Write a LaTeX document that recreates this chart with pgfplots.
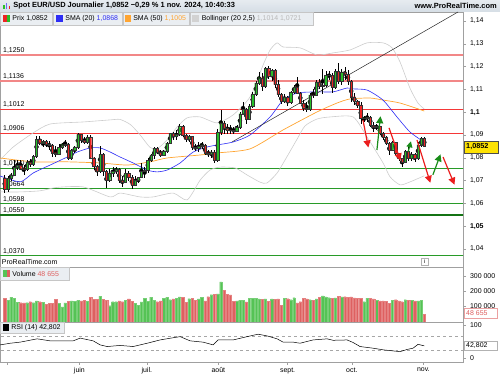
\documentclass[border=0pt]{standalone}
\usepackage{fontspec}
\setmainfont{Liberation Sans}
\usepackage{pgfplots}
\pgfplotsset{compat=1.18}
\usepackage{pgfplotstable}
\usetikzlibrary{arrows.meta}
\definecolor{cgreen}{RGB}{40,190,40}
\definecolor{cred}{RGB}{236,36,36}
\definecolor{vgreen}{RGB}{85,195,85}
\definecolor{vred}{RGB}{222,96,96}
\definecolor{bblue}{RGB}{45,45,245}
\definecolor{sorange}{RGB}{255,165,50}
\definecolor{boll}{RGB}{205,205,205}
\definecolor{lgreen}{RGB}{40,155,40}
\definecolor{dgreen}{RGB}{20,115,20}
\definecolor{hred}{RGB}{245,55,55}
\definecolor{pred}{RGB}{242,135,135}
\definecolor{barbg}{RGB}{214,222,230}
\definecolor{boxbg}{RGB}{234,238,242}
\definecolor{axgray}{RGB}{160,160,160}
\definecolor{agreen}{RGB}{25,140,25}
\definecolor{ared}{RGB}{235,30,30}
\newcommand\sm{\fontsize{7}{8}\selectfont}
\pgfplotstableread{
i o h l c v
0 1.0712 1.0725 1.0646 1.0660 153000
1 1.0660 1.0718 1.0650 1.0710 142000
2 1.0710 1.0735 1.0700 1.0725 161000
3 1.0725 1.0790 1.0720 1.0758 153000
4 1.0758 1.0790 1.0745 1.0768 128000
5 1.0768 1.0790 1.0745 1.0752 126000
6 1.0752 1.0770 1.0725 1.0748 125000
7 1.0748 1.0790 1.0740 1.0782 126000
8 1.0782 1.0795 1.0760 1.0771 132000
9 1.0771 1.0810 1.0765 1.0805 126000
10 1.0805 1.0895 1.0800 1.0882 138000
11 1.0882 1.0895 1.0855 1.0866 132000
12 1.0866 1.0880 1.0845 1.0871 128000
13 1.0871 1.0880 1.0845 1.0858 115000
14 1.0858 1.0875 1.0835 1.0855 122000
15 1.0855 1.0860 1.0805 1.0822 122000
16 1.0822 1.0850 1.0805 1.0817 147000
17 1.0817 1.0860 1.0810 1.0847 120000
18 1.0847 1.0865 1.0840 1.0857 98000
19 1.0857 1.0880 1.0845 1.0859 124000
20 1.0859 1.0865 1.0790 1.0800 135000
21 1.0800 1.0840 1.0790 1.0832 137000
22 1.0832 1.0850 1.0820 1.0848 135000
23 1.0848 1.0910 1.0840 1.0903 140000
24 1.0903 1.0905 1.0865 1.0877 137000
25 1.0877 1.0890 1.0860 1.0869 140000
26 1.0869 1.0900 1.0860 1.0892 135000
27 1.0892 1.0900 1.0795 1.0800 162000
28 1.0800 1.0805 1.0745 1.0763 147000
29 1.0763 1.0770 1.0720 1.0740 147000
30 1.0740 1.0850 1.0735 1.0815 168000
31 1.0815 1.0820 1.0720 1.0739 147000
32 1.0739 1.0745 1.0668 1.0702 142000
33 1.0702 1.0750 1.0695 1.0734 106000
34 1.0734 1.0761 1.0715 1.0739 132000
35 1.0739 1.0760 1.0730 1.0750 132000
36 1.0750 1.0755 1.0690 1.0700 137000
37 1.0700 1.0720 1.0670 1.0693 132000
38 1.0693 1.0750 1.0690 1.0733 140000
39 1.0733 1.0740 1.0700 1.0715 150000
40 1.0715 1.0725 1.0665 1.0681 136000
41 1.0681 1.0720 1.0675 1.0702 120000
42 1.0702 1.0715 1.0690 1.0713 110000
43 1.0713 1.0775 1.0710 1.0740 131000
44 1.0740 1.0760 1.0710 1.0745 155000
45 1.0745 1.0800 1.0735 1.0790 134000
46 1.0790 1.0815 1.0780 1.0812 162000
47 1.0812 1.0845 1.0795 1.0840 140000
48 1.0840 1.0845 1.0815 1.0826 132000
49 1.0826 1.0835 1.0805 1.0813 137000
50 1.0813 1.0835 1.0810 1.0829 153000
51 1.0829 1.0870 1.0820 1.0864 160000
52 1.0864 1.0910 1.0860 1.0907 145000
53 1.0907 1.0915 1.0880 1.0893 150000
54 1.0893 1.0920 1.0880 1.0902 156000
55 1.0902 1.0948 1.0895 1.0939 164000
56 1.0939 1.0945 1.0890 1.0899 160000
57 1.0899 1.0905 1.0870 1.0883 128000
58 1.0883 1.0900 1.0870 1.0893 152000
59 1.0893 1.0895 1.0835 1.0846 154000
60 1.0846 1.0860 1.0830 1.0843 140000
61 1.0843 1.0870 1.0825 1.0849 151000
62 1.0849 1.0870 1.0840 1.0856 160000
63 1.0856 1.0860 1.0810 1.0822 137000
64 1.0822 1.0835 1.0805 1.0817 165000
65 1.0817 1.0835 1.0800 1.0826 178000
66 1.0826 1.0835 1.0775 1.0790 180000
67 1.0790 1.0927 1.0780 1.0911 183000
68 1.0911 1.1009 1.0900 1.0953 262000
69 1.0953 1.0960 1.0905 1.0931 207000
70 1.0931 1.0950 1.0905 1.0922 180000
71 1.0922 1.0945 1.0905 1.0920 176000
72 1.0920 1.0935 1.0905 1.0917 135000
73 1.0917 1.0945 1.0915 1.0932 138000
74 1.0932 1.1000 1.0925 1.0993 142000
75 1.0993 1.1045 1.0990 1.1013 142000
76 1.1013 1.1020 1.0950 1.0969 130000
77 1.0969 1.1035 1.0965 1.1028 155000
78 1.1028 1.1090 1.1020 1.1078 155000
79 1.1078 1.1135 1.1070 1.1129 155000
80 1.1129 1.1175 1.1120 1.1151 150000
81 1.1151 1.1170 1.1095 1.1113 148000
82 1.1113 1.1200 1.1105 1.1191 150000
83 1.1191 1.1202 1.1145 1.1159 136000
84 1.1159 1.1190 1.1135 1.1183 150000
85 1.1183 1.1190 1.1105 1.1121 148000
86 1.1121 1.1140 1.1065 1.1077 150000
87 1.1077 1.1085 1.1035 1.1047 110000
88 1.1047 1.1080 1.1040 1.1065 155000
89 1.1065 1.1070 1.1025 1.1044 152000
90 1.1044 1.1095 1.1035 1.1089 145000
91 1.1089 1.1120 1.1080 1.1111 158000
92 1.1111 1.1155 1.1080 1.1085 124000
93 1.1085 1.1090 1.1035 1.1040 132000
94 1.1040 1.1055 1.1005 1.1018 155000
95 1.1018 1.1045 1.1000 1.1012 150000
96 1.1012 1.1085 1.1005 1.1076 145000
97 1.1076 1.1100 1.1060 1.1075 143000
98 1.1075 1.1140 1.1070 1.1133 150000
99 1.1133 1.1145 1.1100 1.1115 160000
100 1.1115 1.1190 1.1080 1.1118 170000
101 1.1118 1.1180 1.1110 1.1161 163000
102 1.1161 1.1180 1.1140 1.1163 158000
103 1.1163 1.1170 1.1085 1.1110 155000
104 1.1110 1.1190 1.1100 1.1180 157000
105 1.1180 1.1214 1.1125 1.1134 168000
106 1.1134 1.1190 1.1120 1.1177 163000
107 1.1177 1.1200 1.1140 1.1165 165000
108 1.1165 1.1185 1.1120 1.1135 160000
109 1.1135 1.1140 1.1045 1.1068 164000
110 1.1068 1.1083 1.1030 1.1048 157000
111 1.1048 1.1055 1.1020 1.1032 153000
112 1.1032 1.1045 1.0950 1.0975 155000
113 1.0972 1.0985 1.0955 1.0975 132000
114 1.0975 1.0998 1.0955 1.0978 156000
115 1.0978 1.0985 1.0935 1.0942 154000
116 1.0942 1.0955 1.0915 1.0936 150000
117 1.0936 1.0950 1.0920 1.0938 141000
118 1.0938 1.0940 1.0900 1.0909 138000
119 1.0909 1.0915 1.0880 1.0892 137000
120 1.0892 1.0895 1.0855 1.0862 135000
121 1.0862 1.0870 1.0810 1.0832 122000
122 1.0832 1.0875 1.0830 1.0867 140000
123 1.0867 1.0870 1.0810 1.0818 145000
124 1.0818 1.0822 1.0785 1.0797 138000
125 1.0797 1.0800 1.0761 1.0781 132000
126 1.0781 1.0835 1.0775 1.0827 145000
127 1.0827 1.0845 1.0785 1.0797 143000
128 1.0797 1.0825 1.0785 1.0815 140000
129 1.0815 1.0820 1.0780 1.0797 138000
130 1.0797 1.0870 1.0790 1.0857 138000
131 1.0857 1.0890 1.0845 1.0884 140000
132 1.0884 1.0890 1.0845 1.0852 48655
}\ohlc
\pgfplotsset{
  panel/.style={scale only axis, width=463bp, xmin=-1.415, xmax=144.18,
    axis line style={draw=axgray}, tick style={draw=axgray, line width=0.4bp},
    ytick pos=right, tick align=outside, major tick length=3bp,
    tick label style={font=\sm}, yticklabel style={xshift=0.5bp},
    scaled y ticks=false},
  pricepanel/.style={panel, at={(0bp,108bp)}, anchor=south west, height=255bp,
    ymin=1.032105, ymax=1.143947},
  hline/.style={forget plot, line width=0.8bp},
}
\tikzset{lvl/.style={anchor=south west, inner sep=0, yshift=1.6bp, font=\sm}}
\begin{document}
\begin{tikzpicture}
\path (0,0) rectangle (500bp,375bp);
% title bar
\shade[top color=barbg!60, bottom color=barbg] (0,363.5bp) rectangle (500bp,375bp);
\fill[cgreen] (3bp,366bp) rectangle (4.5bp,370bp);
\fill[bblue!70] (5.5bp,366bp) rectangle (7bp,372bp);
\fill[cred] (8.5bp,366bp) rectangle (10bp,368.5bp);
\node[anchor=west, inner sep=0, font=\bfseries\fontsize{7.5}{8}\selectfont] at (13bp,369.2bp) {Spot EUR/USD Journalier 1,0852 −0,29 \% 1 nov. 2024, 10:40:33};
\node[anchor=east, inner sep=0, font=\bfseries\fontsize{7.5}{8}\selectfont] at (497bp,369.2bp) {www.ProRealTime.com};

%================ PRICE (lines, levels, wicks)
\begin{axis}[pricepanel, xtick=\empty,
  ytick={1.04,1.05,1.06,1.07,1.08,1.09,1.10,1.11,1.12,1.13,1.14},
  yticklabels={{1,04},{\bfseries 1,05},{1,06},{1,07},{1,08},{1,09},{\bfseries 1,1},{1,11},{1,12},{1,13},{1,14}}]
\addplot[hline, pred, line width=1.6bp] coordinates {(-3,1.1250) (150,1.1250)};
\addplot[hline, pred, line width=1.6bp] coordinates {(-3,1.1136) (150,1.1136)};
\addplot[hline, hred] coordinates {(-3,1.1012) (150,1.1012)};
\addplot[hline, hred] coordinates {(-3,1.0906) (150,1.0906)};
\addplot[hline, lgreen] coordinates {(-3,1.0752) (150,1.0752)};
\addplot[hline, lgreen] coordinates {(-3,1.0664) (150,1.0664)};
\addplot[hline, lgreen] coordinates {(-3,1.0598) (150,1.0598)};
\addplot[hline, dgreen, line width=1.8bp] coordinates {(-3,1.0550) (150,1.0550)};
\addplot[hline, lgreen] coordinates {(-3,1.0370) (150,1.0370)};
\node[lvl] at (axis cs:-0.55,1.1250) {1,1250};
\node[lvl] at (axis cs:-0.55,1.1136) {1,1136};
\node[lvl] at (axis cs:-0.55,1.1012) {1,1012};
\node[lvl] at (axis cs:-0.55,1.0906) {1,0906};
\node[lvl] at (axis cs:-0.55,1.0752) {1,0750};
\node[lvl] at (axis cs:-0.55,1.0664) {1,0664};
\node[lvl] at (axis cs:-0.55,1.0598) {1,0598};
\node[lvl] at (axis cs:-0.55,1.0550) {1,0550};
\node[lvl] at (axis cs:-0.55,1.0370) {1,0370};
% Bollinger
\addplot[forget plot, boll, line width=0.6bp, smooth, tension=0.4] coordinates {
(-1.42,1.0790) (2.67,1.0847) (8.96,1.0909) (14.31,1.0948) (24.69,1.0957) (33.18,1.0966) (36.3,1.0968) (39.6,1.0945) (42.61,1.0900) (45.75,1.0845) (48,1.0840) (51.1,1.0878) (54.25,1.0935) (57.39,1.0975) (61.48,1.0979) (66.82,1.0953) (71.86,1.0988) (77.2,1.1067) (81.29,1.1207) (83.49,1.1273) (85.69,1.1304) (87.58,1.1286) (92.92,1.1282) (98.27,1.1251) (103.3,1.1260) (108.65,1.1273) (114.0,1.1304) (119.03,1.1304) (121.86,1.1282) (124.37,1.1220) (127.5,1.1105) (130,1.1040) (132,1.1014)};
\addplot[forget plot, boll, line width=0.6bp, smooth, tension=0.4] coordinates {
(-1.42,1.0650) (4.87,1.0650) (11.16,1.0655) (16.51,1.0670) (24.69,1.0672) (33.18,1.0628) (36.3,1.0645) (42.61,1.0628) (46.7,1.0628) (53,1.0645) (57.4,1.0615) (61.5,1.0702) (64.6,1.0746) (67.8,1.0759) (72.5,1.0755) (76.3,1.0724) (80.3,1.0693) (82.5,1.0689) (85.7,1.0733) (88.9,1.0807) (92,1.0882) (94.5,1.0940) (98.3,1.0970) (102.4,1.0979) (109.6,1.0979) (114.0,1.0891) (119.03,1.0777) (121.23,1.0716) (124.37,1.0681) (127.52,1.0694) (132,1.0721)};
% SMA 50
\addplot[forget plot, sorange, line width=0.7bp, smooth, tension=0.4] coordinates {
(-1.42,1.0799) (8.96,1.0782) (19.65,1.0782) (30.03,1.0777) (38.52,1.0768) (45.75,1.0782) (51.1,1.0799) (61.48,1.0812) (66.82,1.0821) (77.2,1.0839) (87.58,1.0922) (98.27,1.1001) (104.56,1.1040) (108.65,1.1058) (114.94,1.1062) (119.03,1.1053) (124.37,1.1040) (132,1.1005)};
% SMA 20
\addplot[forget plot, bblue, line width=0.6bp, smooth, tension=0.4] coordinates {
(-1.42,1.0720) (4.87,1.0694) (8.96,1.0733) (14.31,1.0768) (19.65,1.0803) (22.8,1.0825) (26.89,1.0843) (30.03,1.0843) (33.18,1.0825) (36.32,1.0803) (40.41,1.0777) (44.81,1.0746) (47.96,1.0738) (51.1,1.0746) (55.19,1.0777) (59.28,1.0825) (63.68,1.0847) (66.82,1.0856) (71.86,1.0869) (77.2,1.0900) (83.49,1.0979) (87.58,1.1053) (91.98,1.1084) (98.27,1.1089) (103.3,1.1089) (107.7,1.1106) (109.6,1.1102) (114.0,1.1097) (119.0,1.1053) (123.4,1.0979) (127.5,1.0913) (132,1.0868)};
% trend line
\addplot[forget plot, black!85, line width=0.5bp] coordinates {(71.5,1.0869) (142.6,1.14395)};
% wicks (high to low)
\addplot[forget plot, only marks, mark=none, black, error bars/.cd, y dir=both, y explicit, error mark=none,
  error bar style={draw=black}]
  table[x=i, y expr={(\thisrow{h}+\thisrow{l})/2}, y error expr={(\thisrow{h}-\thisrow{l})/2}] {\ohlc};
\end{axis}

%================ PRICE overlay: candle bodies
\begin{axis}[pricepanel, hide axis, ybar stacked, bar width=2.3bp]
\addplot[draw=none, fill=none] table[x=i, y expr={min(\thisrow{o},\thisrow{c})}] {\ohlc};
\addplot[fill=cgreen, draw=black!80, line width=0.3bp] table[x=i, y expr={max(\thisrow{c}-\thisrow{o},0)}] {\ohlc};
\addplot[fill=cred, draw=black!80, line width=0.3bp] table[x=i, y expr={max(\thisrow{o}-\thisrow{c},0)}] {\ohlc};
\end{axis}

%================ PRICE overlay: arrows
\begin{axis}[pricepanel, hide axis]
\addplot[forget plot, ared, line width=1.2bp, -{Triangle[length=7bp,width=7bp]}] coordinates {(112.7,1.0966) (114.4,1.0845)};
\addplot[forget plot, agreen, line width=1.2bp, -{Triangle[length=7bp,width=7bp]}] coordinates {(117.1,1.0834) (118.2,1.0982)};
\addplot[forget plot, ared, line width=1.2bp, -{Triangle[length=7bp,width=7bp]}] coordinates {(120.9,1.0931) (124.5,1.0788)};
\addplot[forget plot, agreen, line width=1.2bp, -{Triangle[length=6bp,width=6bp]}] coordinates {(126.9,1.0825) (127.8,1.0872)};
\addplot[forget plot, ared, line width=1.2bp, -{Triangle[length=7bp,width=7bp]}] coordinates {(129.7,1.0878) (133.9,1.0690)};
\addplot[forget plot, agreen, line width=1.2bp, -{Triangle[length=7bp,width=7bp]}] coordinates {(134.7,1.0725) (137.1,1.0815)};
\addplot[forget plot, ared, line width=1.2bp, -{Triangle[length=7bp,width=7bp]}] coordinates {(137.9,1.0803) (141.5,1.0682)};
\end{axis}

%================ VOLUME
\begin{axis}[panel, at={(0bp,53bp)}, anchor=south west, height=55bp,
  ymin=0, ymax=359500, xtick=\empty,
  ytick={100000,200000,300000}, yticklabels={100 000,200 000,300 000}]
\addplot[forget plot, ybar, bar width=2.4bp, bar shift=0pt, fill=vgreen, draw=vgreen!80!white, line width=0.2bp,
  restrict expr to domain={\thisrow{c}-\thisrow{o}}{0:1}] table[x=i, y=v] {\ohlc};
\addplot[forget plot, ybar, bar width=2.4bp, bar shift=0pt, fill=vred, draw=vred!80!white, line width=0.2bp,
  restrict expr to domain={\thisrow{o}-\thisrow{c}}{0.00001:1}] table[x=i, y=v] {\ohlc};
\end{axis}

%================ RSI
\begin{axis}[panel, at={(0bp,13bp)}, anchor=south west, height=40bp,
  ymin=-0.8, ymax=108.3,
  ytick={10,100}, yticklabels={0,100},
  xtick={0.7,23.5,44.7,67.2,89,109.2,131.7},
  xticklabels={,juin,juil.,août,sept.,oct.,nov.},
  xtick pos=bottom, xticklabel style={yshift=0.5bp}]
\addplot[forget plot, gray!70, dashed, line width=0.4bp] coordinates {(-3,70) (150,70)};
\addplot[forget plot, gray!70, dashed, line width=0.4bp] coordinates {(-3,30) (150,30)};
\addplot[forget plot, black, line width=0.5bp] coordinates {
(-1.42,45.5) (1.73,50) (4.87,53) (10.22,62) (14.31,56.5) (21.54,56.5) (23.74,64) (27.83,56.5) (30.03,45.5) (32.23,41) (36.32,44) (40.41,41) (44.81,50) (48.9,59) (52.99,65) (55.19,68) (58.33,56.5) (62.42,53) (65.57,45.5) (67.14,59) (71.86,59) (76.26,68) (79.72,74.7) (82.55,70) (85.69,62) (87.58,53) (90.72,53) (92.92,50) (97.01,59) (101.42,62) (103.3,58) (107.7,59) (109.6,52) (111.79,41) (115.88,36.5) (119.03,32) (121.23,30) (124.37,27) (126.57,33) (128.46,36.5) (130.03,47) (132,42.8)};
\end{axis}

% legend boxes
\begin{scope}[font=\sm]
\filldraw[fill=boxbg, draw=gray!45, line width=0.4bp] (0.5bp,350bp) rectangle (52bp,362.5bp);
\fill[cred] (3bp,352.5bp) rectangle (6.5bp,360bp);
\fill[cgreen] (6.5bp,352.5bp) rectangle (10bp,360bp);
\node[anchor=west, inner sep=0] at (12bp,356.2bp) {Prix 1,0852};
\filldraw[fill=boxbg, draw=gray!45, line width=0.4bp] (53bp,350bp) rectangle (122bp,362.5bp);
\fill[bblue] (55.5bp,352.5bp) rectangle (62.5bp,360bp);
\node[anchor=west, inner sep=0] at (65bp,356.2bp) {SMA (20) \textcolor{bblue}{1,0868}};
\filldraw[fill=boxbg, draw=gray!45, line width=0.4bp] (123bp,350bp) rectangle (189bp,362.5bp);
\fill[sorange] (124.5bp,352.5bp) rectangle (131bp,360bp);
\node[anchor=west, inner sep=0] at (133bp,356.2bp) {SMA (50) \textcolor{sorange}{1,1005}};
\filldraw[fill=boxbg, draw=gray!45, line width=0.4bp] (190bp,350bp) rectangle (313bp,362.5bp);
\fill[gray!35] (192bp,352.5bp) rectangle (198.5bp,360bp);
\node[anchor=west, inner sep=0] at (201.5bp,356.2bp) {Bollinger (20 2,5) \textcolor{gray!55}{1,1014 1,0721}};
% right price box
\filldraw[fill=yellow!85!orange, draw=black!70, line width=0.4bp] (464bp,222bp) rectangle (498bp,234bp);
\node[anchor=west, inner sep=0, font=\bfseries\fontsize{7.3}{8}\selectfont] at (466bp,228bp) {1,0852};
% ProRealTime and info icon
\node[anchor=west, inner sep=0] at (1.5bp,113bp) {ProRealTime.com};
\filldraw[fill=white, draw=gray!60, line width=0.4bp] (421bp,110bp) rectangle (428bp,117bp);
\node[inner sep=0, font=\fontsize{5.5}{6}\selectfont] at (424.5bp,113.5bp) {i};
% volume legend
\filldraw[fill=boxbg, draw=gray!45, line width=0.4bp] (0.5bp,95bp) rectangle (69bp,107.5bp);
\fill[vgreen] (3bp,97.5bp) rectangle (6.5bp,105bp);
\fill[vred] (6.5bp,97.5bp) rectangle (10bp,105bp);
\node[anchor=west, inner sep=0] at (12bp,101.2bp) {Volume \textcolor{vred}{48 655}};
\filldraw[fill=white, draw=vred!60, line width=0.4bp] (464bp,57bp) rectangle (497bp,67bp);
\node[anchor=west, inner sep=0, text=vred] at (466bp,62bp) {48 655};
% RSI legend
\filldraw[fill=boxbg, draw=gray!45, line width=0.4bp] (0.5bp,42bp) rectangle (64bp,52.5bp);
\fill[black] (3bp,44bp) rectangle (9bp,50.5bp);
\node[anchor=west, inner sep=0] at (11bp,47.2bp) {RSI (14) 42,802};
\filldraw[fill=white, draw=gray!60, line width=0.4bp] (464bp,25bp) rectangle (497bp,34bp);
\node[anchor=west, inner sep=0] at (466bp,29.5bp) {42,802};
\end{scope}
\end{tikzpicture}
\end{document}
